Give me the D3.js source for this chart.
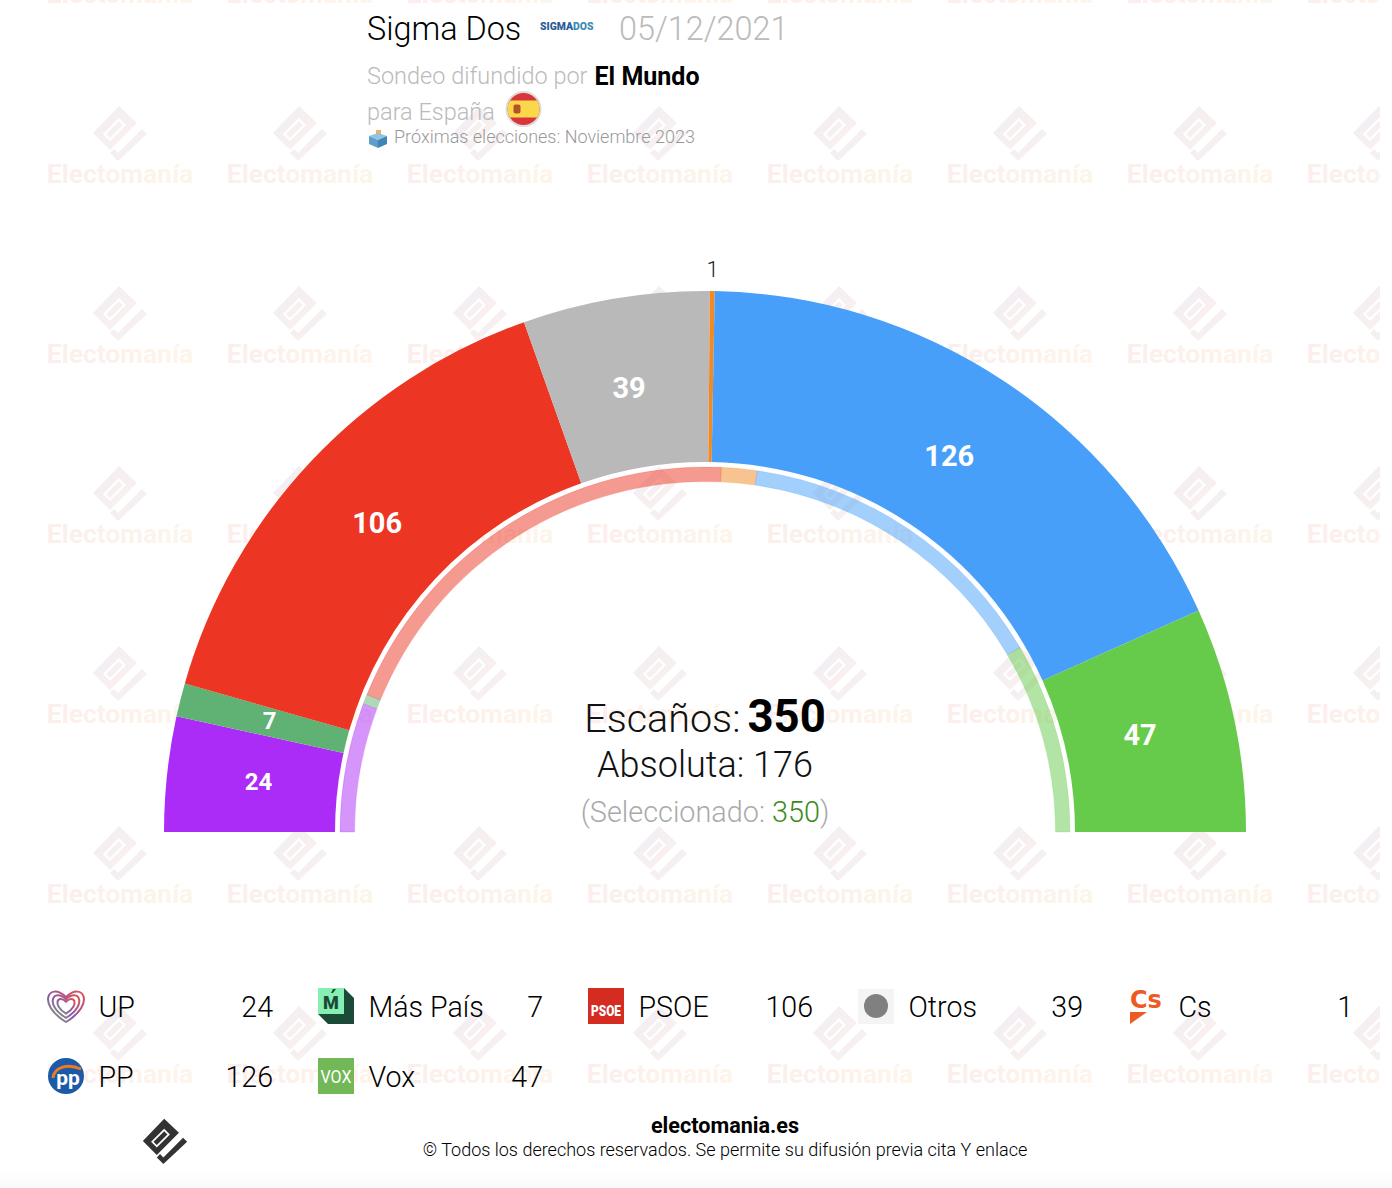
<!DOCTYPE html>
<html><head><meta charset="utf-8">
<script src="https://cdn.jsdelivr.net/npm/d3@7"></script>
<style>html,body{margin:0;padding:0;background:#fff}svg{display:block}text{font-family:Roboto,sans-serif}</style>
</head><body><div id="c"></div>
<script>
const parties=["UP","Más País","PSOE","Otros","Cs","PP","Vox"];
const seats=[24,7,106,39,1,126,47];
const colors=["#ab2bf7","#60b174","#ec3623","#b9b9b9","#f08a24","#489ffa","#66ca4b"];
const prevParties=["UP","Más País","PSOE","Cs","PP","Vox"];
const prevSeats=[40,3,137,11,100,59];
const prevColors=["#ab2bf7","#60b174","#ec3623","#f08a24","#489ffa","#66ca4b"];
const totalSeats=350, majority=176, selected=350;

const W=1392,H=1188,cx=705,cy=832;
const svg=d3.select("#c").append("svg").attr("width",W).attr("height",H);
const defs=svg.append("defs");
const grad=(id,a,b,dir)=>{const g=defs.append("linearGradient").attr("id",id).attr("x1",dir[0]).attr("y1",dir[1]).attr("x2",dir[2]).attr("y2",dir[3]);
  g.append("stop").attr("offset",0).attr("stop-color",a);g.append("stop").attr("offset",1).attr("stop-color",b);return g;};
grad("wmg","#fbeeec","#fdf5ea",[0,0,1,0]);
grad("wmi","#f0edf8","#fcf2ea",[0,0,1,1]);
grad("foot","#ffffff","#f9f9f9",[0,0,0,1]);
const hg=grad("heart","#7fb069","#e2504f",[0,1,1,0]);
hg.insert("stop","stop:last-child").attr("offset",.42).attr("stop-color","#8a5aa8");

// logo shape: rotated rectangle with slot + check mark, drawn around 0,0
function logo(g,fill){
  g.append("path").attr("fill-rule","evenodd").attr("fill",fill)
   .attr("d","M-1,-27 L17,-10 L-10,17 L-27,0 Z M-17,1 L-10,8 L6,-8 L-1,-15 Z M-14,1 L-10,5 L3,-8 L-1,-12 Z");
  g.append("path").attr("fill",fill).attr("d","M22,-4 L27,1 L-2,28 L-10,20 L-6,16 L-2,20 Z");
}
defs.append("clipPath").attr("id","wclip").append("rect").attr("width",1380).attr("height",1180);
const wm=svg.append("g").attr("clip-path","url(#wclip)");
d3.range(0,8).forEach(c=>d3.range(0,7).forEach(r=>{
  const g=wm.append("g").attr("transform",`translate(${120+180*c},${-47+180*r})`);
  logo(g.append("g"),"url(#wmi)");
  g.append("text").attr("y",50).attr("text-anchor","middle").attr("font-size",26.4).attr("font-weight",700)
   .attr("fill","url(#wmg)").text("Electomanía");
}));
svg.append("rect").attr("y",1170).attr("width",W).attr("height",18).attr("fill","url(#foot)");

// main arcs
const ang=d3.scaleLinear().domain([0,totalSeats]).range([-Math.PI/2,Math.PI/2]);
const stack=a=>{let s=0;return a.map(v=>{const r=[s,s+v];s+=v;return r;});};
const arc=d3.arc();
const chart=svg.append("g").attr("transform",`translate(${cx},${cy})`);
const main=stack(seats).map((b,i)=>({b,i,v:seats[i]}));
chart.selectAll("path.m").data(main).join("path").attr("class","m")
 .attr("fill",d=>colors[d.i])
 .attr("d",d=>arc({innerRadius:370,outerRadius:541,startAngle:ang(d.b[0]),endAngle:ang(d.b[1])}));
const prev=stack(prevSeats).map((b,i)=>({b,i}));
chart.selectAll("path.p").data(prev).join("path").attr("class","p")
 .attr("fill",d=>prevColors[d.i]).attr("fill-opacity",.5)
 .attr("stroke",d=>prevColors[d.i]).attr("stroke-opacity",.25).attr("stroke-width",.8)
 .attr("d",d=>arc({innerRadius:350.5,outerRadius:365,startAngle:ang(d.b[0]),endAngle:ang(d.b[1])}));
const pos=(d,r)=>{const a=ang((d.b[0]+d.b[1])/2);return [r*Math.sin(a),-r*Math.cos(a)];};
chart.selectAll("text.l").data(main).join("text").attr("class","l")
 .attr("transform",d=>`translate(${pos(d,d.v===1?563:447)})`)
 .attr("text-anchor","middle").attr("dy",d=>d.v===1?".38em":".24em").attr("dx",d=>d.v===1?0:-2)
 .attr("fill",d=>d.v===1?"#222":"#fff")
 .attr("font-weight",d=>d.v===1?300:700)
 .attr("font-size",d=>d.v===1?22:d.v<30?24:29)
 .text(d=>d.v);

// centre
const t1=svg.append("text").attr("x",cx).attr("y",732).attr("text-anchor","middle").attr("font-size",39.5).attr("font-weight",300).attr("fill","#111");
t1.append("tspan").text("Escaños:");
t1.append("tspan").attr("dx",7).attr("font-weight",700).attr("font-size",45.5).attr("fill","#000").text(totalSeats);
svg.append("text").attr("x",cx).attr("y",777).attr("text-anchor","middle").attr("font-size",36).attr("font-weight",300).attr("fill","#111").text("Absoluta: "+majority);
const t3=svg.append("text").attr("x",cx).attr("y",822).attr("text-anchor","middle").attr("font-size",28.8).attr("font-weight",300).attr("fill","#aaa");
t3.append("tspan").text("(Seleccionado: ");
t3.append("tspan").attr("fill","#3c8a1e").text(selected);
t3.append("tspan").text(")");

// header
const h=svg.append("g");
h.append("text").attr("x",367).attr("y",40).attr("font-size",32.4).attr("font-weight",300).attr("fill","#000").text("Sigma Dos");
const sg=h.append("text").attr("x",540).attr("y",29.5).attr("font-size",10.4).attr("font-weight",900).attr("fill","#2a5a9a");
sg.append("tspan").text("SIGMA");sg.append("tspan").attr("fill","#3c8bb0").text("DOS");
h.append("text").attr("x",619).attr("y",40).attr("font-size",32.4).attr("font-weight",300).attr("fill","#bbb").text("05/12/2021");
const s=h.append("text").attr("x",367).attr("y",83.5).attr("font-size",23.5).attr("font-weight",300).attr("fill","#bbb");
s.append("tspan").text("Sondeo difundido por");
s.append("tspan").attr("dx",7).attr("dy",1).attr("font-weight",700).attr("font-size",25).attr("fill","#000").text("El Mundo");
h.append("text").attr("x",367).attr("y",120).attr("font-size",23.5).attr("font-weight",300).attr("fill","#bbb").text("para España");
// flag
const f=h.append("g").attr("transform","translate(523.5,109)");
f.append("circle").attr("r",18).attr("fill","#ddd");
defs.append("clipPath").attr("id","fc").append("circle").attr("r",16);
const fi=f.append("g").attr("clip-path","url(#fc)");
fi.append("rect").attr("x",-17).attr("y",-17).attr("width",34).attr("height",34).attr("fill","#d8363a");
fi.append("rect").attr("x",-17).attr("y",-8.5).attr("width",34).attr("height",17).attr("fill","#fbd84a");
fi.append("rect").attr("x",-10).attr("y",-4.5).attr("width",7).attr("height",9).attr("rx",2).attr("fill","#b5542a");
// ballot box
const b=h.append("g").attr("transform","translate(378,139)");
b.append("path").attr("fill","#f0b15a").attr("d","M-2,-9 L3,-9 L3,-3 L-2,-3 Z");
b.append("path").attr("fill","#8fc4e4").attr("d","M-9,-3 L0,-6 L9,-3 L0,1 Z");
b.append("path").attr("fill","#5d9fca").attr("d","M-9,-3 L0,1 L0,9 L-9,5 Z");
b.append("path").attr("fill","#3f86b6").attr("d","M9,-3 L0,1 L0,9 L9,5 Z");
h.append("text").attr("x",394).attr("y",143).attr("font-size",18).attr("font-weight",300).attr("fill","#999").text("Próximas elecciones: Noviembre 2023");

// legend
const colX=d3.scaleLinear().domain([0,1]).range([48,318]);
const rowY=d3.scaleLinear().domain([0,1]).range([988,1058]);
const icons={
 UP:g=>{[1,.74,.48].forEach(k=>{g.append("path").attr("fill","none").attr("stroke","url(#heart)").attr("stroke-width",2)
   .attr("d",`M18,${18+16*k} C${18-30*k},${18-2*k} ${18-17*k},${18-25*k} 18,${18-9*k} C${18+17*k},${18-25*k} ${18+30*k},${18-2*k} 18,${18+16*k} Z`);});},
 "Más País":g=>{g.append("path").attr("fill","#1c4a38").attr("d","M0,26 L10,36 L36,36 L36,10 L26,0 L26,26 Z");
   g.append("rect").attr("width",26).attr("height",26).attr("fill","#86efb1");
   g.append("path").attr("fill","#1c4a38").attr("d","M15,1 L18,1 L15,5 L13,5 Z");
   g.append("text").attr("x",13).attr("y",21).attr("text-anchor","middle").attr("font-size",18).attr("font-weight",900).attr("fill","#1c4a38").text("M");},
 PSOE:g=>{g.append("rect").attr("width",36).attr("height",36).attr("fill","#d42c20");
   g.append("text").attr("x",3).attr("y",28).attr("font-size",14).attr("font-weight",900).attr("textLength",30).attr("lengthAdjust","spacingAndGlyphs").attr("fill","#fff").text("PSOE");},
 Otros:g=>{g.append("rect").attr("y",1).attr("width",36).attr("height",35).attr("fill","#f4f4f4");
   g.append("circle").attr("cx",18).attr("cy",18).attr("r",12).attr("fill","#808080");},
 Cs:g=>{g.append("text").attr("x",2).attr("y",20).attr("font-size",24).attr("font-weight",700).attr("style","font-family:'DejaVu Sans'").attr("fill","#ee5a24").text("Cs");
   g.append("path").attr("fill","#ee5a24").attr("d","M2,24 L19,24 L2,36 Z");},
 PP:g=>{g.append("circle").attr("cx",18).attr("cy",18).attr("r",18).attr("fill","#1c5aa8");
   g.append("path").attr("fill","none").attr("stroke","#ee7a22").attr("stroke-width",3).attr("d","M5,20 C6,9 20,5 33,11");
   g.append("text").attr("x",20).attr("y",27).attr("text-anchor","middle").attr("font-size",21).attr("font-weight",700).attr("fill","#fff").text("pp");},
 Vox:g=>{g.append("rect").attr("width",36).attr("height",36).attr("fill","#72b857");
   g.append("text").attr("x",2.5).attr("y",25).attr("font-size",18).attr("font-weight",400).attr("textLength",31).attr("lengthAdjust","spacingAndGlyphs").attr("fill","#fff").text("VOX");}
};
parties.forEach((p,i)=>{
  const c=i%5,r=Math.floor(i/5),x=colX(c),y=rowY(r);
  const g=svg.append("g").attr("transform",`translate(${x},${y})`);
  icons[p](g.append("g"));
  g.append("text").attr("x",50.5).attr("y",29).attr("font-size",28.6).attr("font-weight",300).attr("fill","#000").text(p);
  g.append("text").attr("x",225).attr("y",29).attr("text-anchor","end").attr("font-size",28.6).attr("font-weight",300).attr("fill","#000").text(seats[i]);
});

// footer
const lg=svg.append("g").attr("transform","translate(165,1141) scale(.82)");
logo(lg,"#333");
svg.append("text").attr("x",725).attr("y",1133).attr("text-anchor","middle").attr("font-size",21.6).attr("font-weight",700).attr("fill","#000").text("electomania.es");
svg.append("text").attr("x",725).attr("y",1156).attr("text-anchor","middle").attr("font-size",18).attr("font-weight",300).attr("fill","#000").text("© Todos los derechos reservados. Se permite su difusión previa cita Y enlace");
</script></body></html>
